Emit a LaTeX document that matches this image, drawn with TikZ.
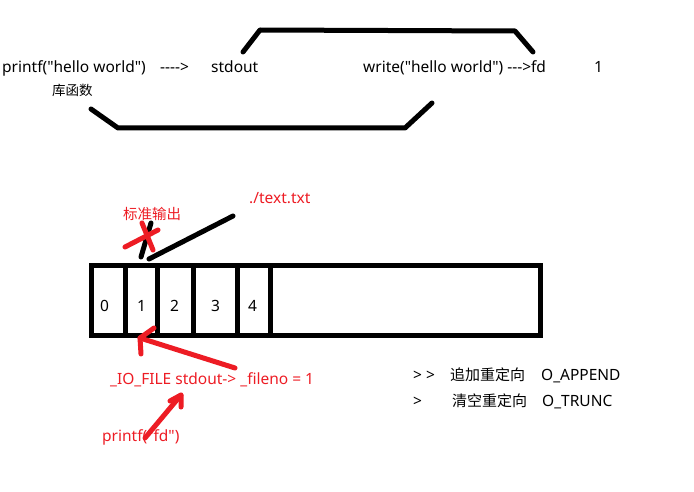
\documentclass[tikz,border=0pt]{standalone}
\usepackage{fontspec}
\newfontfamily\lat{Noto Sans}
\newfontfamily\cjk{Noto Sans CJK SC}
\definecolor{pred}{RGB}{237,28,36}
\begin{document}
\begin{tikzpicture}[x=1pt,y=-1pt,
  txt/.style={anchor=west,inner sep=0pt,font=\lat\fontsize{15.5}{18}\selectfont,text height=11pt,text depth=3pt},
  rtxt/.style={txt,text=pred},
  ctxt/.style={txt,font=\cjk\fontsize{#1}{18}\selectfont},
  rctxt/.style={ctxt=#1,text=pred},
  stroke/.style={line width=5pt,line cap=round,line join=round},
  rstroke/.style={stroke,draw=pred},
  cell/.style={line width=5pt}]
\useasboundingbox (0,0) rectangle (694,492);
% top line
\node[txt] (p1) at (2,69) {printf("hello world")};
\node[txt] (ar1) at (160,69) {-{}-{}-{}->};
\node[txt] (so) at (211,69) {stdout};
\node[txt] (wr) at (363,69) {write("hello world") -{}-{}->fd};
\node[txt] (one) at (594,69) {1};
\node[ctxt=13.5] (lib) at (52,92) {库函数};
% brackets
\coordinate (u1) at (243,52); \coordinate (u2) at (260,30);
\coordinate (u3) at (515,31); \coordinate (u4) at (533,52);
\draw[stroke] (u1) -- (u2) -- (u3) -- (u4);
\coordinate (l1) at (91,109); \coordinate (l2) at (118,128);
\coordinate (l3) at (405,128); \coordinate (l4) at (432,103);
\draw[stroke] (l1) -- (l2) -- (l3) -- (l4);
% fd table
\draw[cell] (91,265) rectangle (540,335);
\draw[cell] (125,265) -- (125,335);
\draw[cell] (157,265) -- (157,335);
\draw[cell] (193,265) -- (193,335);
\draw[cell] (237,265) -- (237,335);
\draw[cell] (270,265) -- (270,335);
\node[txt] (c0) at (100,307) {0};
\node[txt] (c1) at (137,307) {1};
\node[txt] (c2) at (170,307) {2};
\node[txt] (c3) at (211,307) {3};
\node[txt] (c4) at (248,307) {4};
% black strokes
\coordinate (b1) at (151,223); \coordinate (b2) at (141,257);
\draw[stroke] (b1) -- (b2);
\coordinate (b3) at (149,259); \coordinate (b4) at (233,216);
\draw[stroke] (b3) -- (b4);
% red cross
\coordinate (x1) at (125,247); \coordinate (x2) at (158,230);
\coordinate (x3) at (142,223); \coordinate (x4) at (153,250);
\draw[rstroke] (x1) -- (x2);
\draw[rstroke] (x3) -- (x4);
\node[rctxt=14.5] (std) at (123,215) {标准输出};
\node[rtxt] (txtf) at (249,200) {./text.txt};
% red arrow to cell 1
\node[rtxt] (iof) at (110,380) {\_IO\_FILE stdout-> \_fileno = 1};
\coordinate (a1) at (235,368); \coordinate (a2) at (140,338);
\coordinate (a3) at (154,328); \coordinate (a4) at (141,354);
\draw[rstroke] (a1) -- (a2);
\draw[rstroke] (a3) -- (a2) -- (a4);
% red arrow from printf
\node[rtxt] (pfd) at (102,437) {printf("fd")};
\coordinate (d1) at (145,438); \coordinate (d2) at (181,395);
\coordinate (d3) at (170,401); \coordinate (d4) at (181,407);
\draw[rstroke] (d1) -- (d2);
\draw[rstroke] (d3) -- (d2) -- (d4);
% redirect notes
\node[txt] (gg) at (413,376) {> >};
\node[ctxt=15] (zj) at (450,376) {追加重定向};
\node[txt] (ap) at (541,376) {O\_APPEND};
\node[txt] (g) at (413,402) {>};
\node[ctxt=15] (qk) at (452,402) {清空重定向};
\node[txt] (tr) at (542,402) {O\_TRUNC};
\end{tikzpicture}
\end{document}
